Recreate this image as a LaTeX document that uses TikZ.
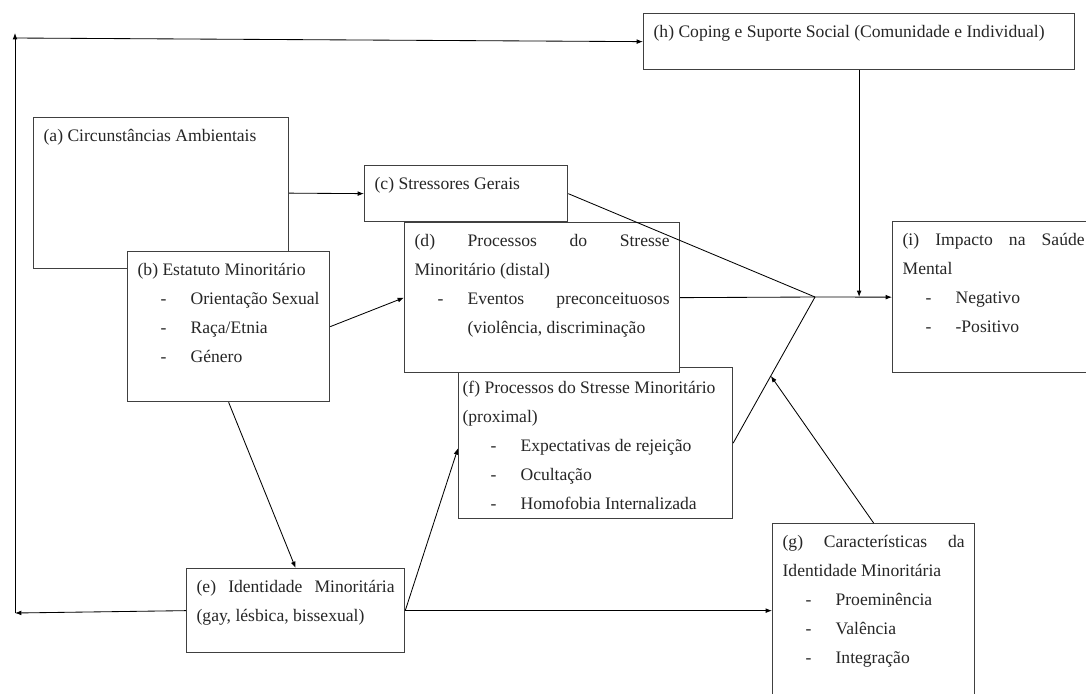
\documentclass[tikz,border=0pt]{standalone}
\usepackage{fontspec}
\setmainfont{Liberation Serif}
\usetikzlibrary{arrows.meta,calc}
\newlength{\px}\setlength{\px}{0.025cm}
\newcommand{\boxtext}[3]{\parbox[t][#2\px][t]{#1\px}{\rule{0pt}{24\px}#3}}
\newcommand{\dashitem}{\hspace*{23\px}\makebox[30\px][l]{-}}

\begin{document}
\begin{tikzpicture}[x=0.025cm, y=-0.025cm,
  font=\fontsize{12.5}{20.6}\selectfont,
  box/.style={draw=black!75, fill=white, line width=0.9pt, anchor=north west,
              inner xsep=7.1pt, inner ysep=0pt, text=black!85},
  arr/.style={-{Latex[length=1.6mm,width=1.2mm]}, line width=0.6pt},
  lin/.style={line width=0.6pt},
]
\path[use as bounding box, clip] (0,0) rectangle (1086,693);

% ===================== LEFT: environment and minority status =====================
\node[box] (amb) at (33,117) {\boxtext{235}{151}{(a) Circunstâncias Ambientais}};

\node[box] (estat) at (127,251) {\boxtext{182}{150}{(b) Estatuto Minoritário\\
  \dashitem Orientação Sexual\\
  \dashitem Raça/Etnia\\
  \dashitem Género}};

\node[box] (ident) at (186,568) {\boxtext{198}{84}{(e)\hfill Identidade\hfill Minoritária\\
  (gay, lésbica, bissexual)}};

% ===================== MIDDLE: stress processes =====================
\node[box] (stress) at (364,165) {\boxtext{183}{56}{(c) Stressores Gerais}};

\node[box, inner xsep=2.8pt] (proxim) at (458,367) {\boxtext{266}{151}{%
  \rule{0pt}{26\px}(f) Processos do Stresse Minoritário\\
  (proximal)\\
  \hspace*{5\px}\dashitem Expectativas de rejeição\\
  \hspace*{5\px}\dashitem Ocultação\\
  \hspace*{5\px}\dashitem Homofobia Internalizada}};

\node[box] (distal) at (404,222) {\boxtext{255}{150}{(d)\hfill Processos\hfill do\hfill Stresse\\
  Minoritário (distal)\\
  \dashitem Eventos\hfill preconceituosos\\
  \hspace*{53\px}(violência, discriminação}};

% ===================== RIGHT: coping, identity, outcome =====================
\node[box] (coping) at (643,13) {\boxtext{411}{56}{(h) Coping e Suporte Social (Comunidade e Individual)}};

\node[box] (caract) at (772,523) {\boxtext{182}{174}{(g)\hfill Características\hfill da\\
  Identidade Minoritária\\
  \dashitem Proeminência\\
  \dashitem Valência\\
  \dashitem Integração}};

\node[box] (saude) at (892,221) {\boxtext{182}{151}{(i)\hfill Impacto\hfill na\hfill Saúde\\
  Mental\\
  \dashitem Negativo\\
  \dashitem -Positivo}};

% connector points
\coordinate (junc) at (815,297);
\coordinate (lowleft) at (15,613);
\coordinate (topleft) at (15,38);
\coordinate (toptip) at (15,33);

% arrows between boxes
\draw[arr] (amb.east) -- (stress.west);
\draw[arr] (estat.east) -- (distal.west);
\draw[arr] (estat.south) -- (ident.north);
\draw[arr] (ident.east) -- ([yshift=-3.6pt]proxim.west);
\draw[arr] (ident.east) -- (caract.west);

% feedback loop round the left edge
\draw[arr] (ident.west) -- (lowleft);
\draw[arr] (lowleft) -- (toptip);
\draw[arr] (topleft) -- (coping.west);

% stressors meet, then go to mental health
\draw[lin] (stress.east) -- (junc);
\draw[lin] (distal.east) -- (junc);
\draw[lin] (proxim.east) -- (junc);
\draw[arr] (caract.north) -- ($(proxim.east)!0.46!(junc)$);
\draw[arr] (coping.south) -- (coping.south |- junc);
\draw[arr] (junc) -- (saude.west);

\end{tikzpicture}
\end{document}
